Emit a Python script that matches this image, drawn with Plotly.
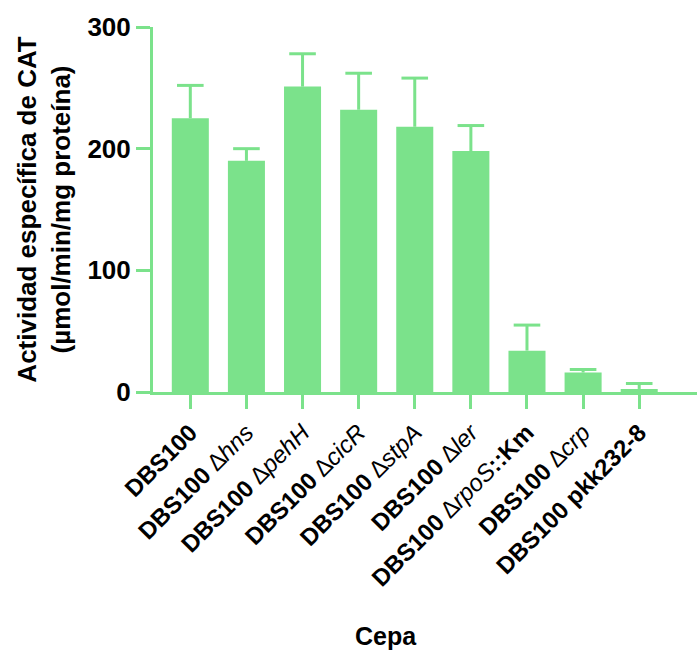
import plotly.graph_objects as go

# Strains (tick labels use rich text: strain bold, deleted gene italic)
strains = ["DBS100", "DBS100 ∆hns", "DBS100 ∆pehH", "DBS100 ∆cicR", "DBS100 ∆stpA",
           "DBS100 ∆ler", "DBS100 ∆rpoS::Km", "DBS100 ∆crp", "DBS100 pkk232-8"]
tick_text = ["<b>DBS100</b>",
             "<b>DBS100</b> <i>∆hns</i>",
             "<b>DBS100</b> <i>∆pehH</i>",
             "<b>DBS100</b> <i>∆cicR</i>",
             "<b>DBS100</b> <i>∆stpA</i>",
             "<b>DBS100</b> <i>∆ler</i>",
             "<b>DBS100</b> <i>∆rpoS</i><b>::Km</b>",
             "<b>DBS100</b> <i>∆crp</i>",
             "<b>DBS100 pkk232-8</b>"]
# CAT specific activity (µmol/min/mg protein): mean and SD
activity = [225, 190, 251, 232, 218, 198, 34, 16, 2.5]
sd = [27, 10, 27, 30, 40, 21, 21, 2.5, 4.5]

green = "#7be28b"
font_family = "Liberation Sans, Arial"
xpos = list(range(len(strains)))

fig = go.Figure()
fig.add_trace(go.Bar(
    x=xpos, y=activity, width=0.66,
    marker=dict(color=green, line=dict(width=0)),
    hoverinfo="x+y",
))

# Upper-only error bars: vertical stem from the mean to mean + SD, cap at the top
stem_x, stem_y = [], []
for xi, m, s in zip(xpos, activity, sd):
    stem_x += [xi, xi, None]
    stem_y += [m, m + s, None]
fig.add_trace(go.Scatter(
    x=stem_x, y=stem_y, mode="lines",
    line=dict(color=green, width=3), hoverinfo="skip", cliponaxis=False,
))
fig.add_trace(go.Scatter(
    x=xpos, y=[m + s for m, s in zip(activity, sd)], mode="markers",
    marker=dict(symbol="line-ew", size=19, line=dict(color=green, width=3)),
    hoverinfo="skip", cliponaxis=False,
))

fig.update_layout(
    width=697, height=650,
    margin=dict(l=153, r=0, t=27, b=258),
    plot_bgcolor="white", paper_bgcolor="white",
    showlegend=False,
    font=dict(family=font_family, color="black"),
    xaxis=dict(
        range=[-0.665, 9.03], tickmode="array", tickvals=xpos, ticktext=tick_text,
        tickangle=-45, showline=True, linecolor=green, linewidth=3,
        ticks="outside", ticklen=14, tickwidth=3, tickcolor=green,
        showgrid=False, zeroline=False,
        tickfont=dict(size=24, family=font_family, color="black"),
    ),
    yaxis=dict(
        range=[0, 300], tickvals=[0, 100, 200, 300],
        showline=True, linecolor=green, linewidth=3,
        ticks="outside", ticklen=14, tickwidth=3, tickcolor=green,
        showgrid=False, zeroline=False,
        tickfont=dict(size=26, family=font_family, color="black", weight="bold"),
        title=dict(text="Actividad específica de CAT<br>(µmol/min/mg proteína)",
                   font=dict(size=26, family=font_family, color="black", weight="bold"),
                   standoff=10),
    ),
    annotations=[dict(text="<b>Cepa</b>", xref="paper", yref="paper",
                      x=(386 - 153) / 544, y=-(636 - 392) / 365,
                      xanchor="center", yanchor="middle", showarrow=False,
                      font=dict(size=25, family=font_family, color="black"))],
)

fig.write_html("out.html")
